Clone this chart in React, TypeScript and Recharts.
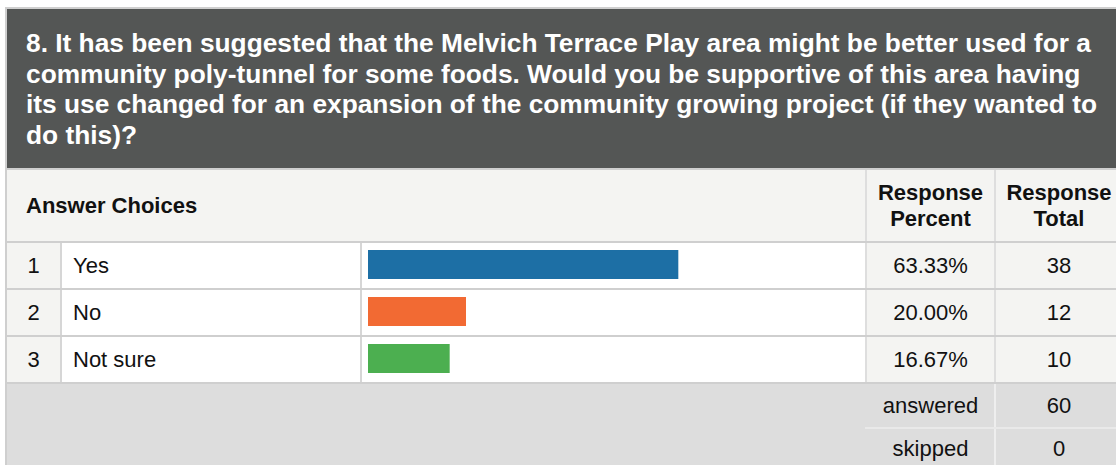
import React from 'react';
import { BarChart, Bar, XAxis, YAxis, Cell } from 'recharts';

const questionLines = [
  '8. It has been suggested that the Melvich Terrace Play area might be better used for a',
  'community poly-tunnel for some foods. Would you be supportive of this area having',
  'its use changed for an expansion of the community growing project (if they wanted to',
  'do this)?',
];
const choiceNumbers = [1, 2, 3];
const choices = ['Yes', 'No', 'Not sure'];
const responsePercents = [63.33, 20.0, 16.67];
const responseTotals = [38, 12, 10];
const answeredCount = 60;
const skippedCount = 0;
const barColors = ['#1d6fa5', '#f26a33', '#4caf50'];

const data = choices.map((c, i) => ({ choice: c, percent: responsePercents[i] }));

const FONT = "'Liberation Sans', Arial, Helvetica, sans-serif";
const LINE = '#cfcfcf';
const VLINE = '#d6d6d6';
const LIGHT = '#f4f4f2';
const FOOT = '#dddddd';
const FS = 22;

const C0 = 7;
const C1 = 60;
const C2 = 360;
const C3 = 865;
const C4 = 994;
const C5 = 1122;
const R1 = 241;
const RH = 47;
const F0 = R1 + RH * 3;
const F1 = 427;

const abs = (left: number, top: number, width: number, height: number, extra: React.CSSProperties = {}): React.CSSProperties => ({
  position: 'absolute',
  left,
  top,
  width,
  height,
  ...extra,
});

const Cell2 = ({ left, top, width, height, children, align = 'center', bold = false, pad = 0, bg }: any) => (
  <div
    style={abs(left, top, width, height, {
      display: 'flex',
      alignItems: 'center',
      justifyContent: align === 'center' ? 'center' : 'flex-start',
      paddingLeft: pad,
      boxSizing: 'border-box',
      fontWeight: bold ? 700 : 400,
      background: bg,
      color: '#111',
      fontSize: FS,
      whiteSpace: 'nowrap',
    })}
  >
    {children}
  </div>
);

export default function App() {
  return (
    <div
      style={{
        position: 'absolute',
        left: 0,
        top: 0,
        width: 1116,
        height: 465,
        overflow: 'hidden',
        background: '#ffffff',
        fontFamily: FONT,
      }}
    >
      {/* outer border */}
      <div style={abs(5, 7, 1111, 2, { background: LINE })} />
      <div style={abs(5, 7, 2, 458, { background: LINE })} />

      {/* dark question header */}
      <div style={abs(C0, 9, 1116 - C0, 159, { background: '#545655' })} />
      <div
        style={abs(26, 28, 1090, 130, {
          color: '#ffffff',
          fontWeight: 700,
          fontSize: 26.3,
          lineHeight: '30.7px',
          whiteSpace: 'nowrap',
        })}
      >
        {questionLines.map((l, i) => (
          <div key={i}>{l}</div>
        ))}
      </div>
      <div style={abs(C0, 168, 1116 - C0, 2, { background: LINE })} />

      {/* header row */}
      <div style={abs(C0, 170, C5 - C0, R1 - 170, { background: LIGHT })} />
      <div style={abs(C3, 170, 2, R1 - 170, { background: '#dedede' })} />
      <div style={abs(C4, 170, 2, R1 - 170, { background: '#dedede' })} />
      <Cell2 left={C0} top={170} width={C3 - C0} height={R1 - 170} align="left" pad={19} bold>
        Answer Choices
      </Cell2>
      <div
        style={abs(C3 + 2, 170, C4 - C3 - 2, R1 - 170, {
          display: 'flex',
          alignItems: 'center',
          justifyContent: 'center',
          textAlign: 'center',
          fontWeight: 700,
          fontSize: FS,
          lineHeight: '26px',
          color: '#111',
        })}
      >
        Response
        <br />
        Percent
      </div>
      <div
        style={abs(C4 + 2, 170, C5 - C4 - 2, R1 - 170, {
          display: 'flex',
          alignItems: 'center',
          justifyContent: 'center',
          textAlign: 'center',
          fontWeight: 700,
          fontSize: FS,
          lineHeight: '26px',
          color: '#111',
        })}
      >
        Response
        <br />
        Total
      </div>

      {/* data rows */}
      {choices.map((c, i) => {
        const top = R1 + RH * i;
        return (
          <React.Fragment key={c}>
            <div style={abs(C0, top, 1116 - C0, 2, { background: LINE })} />
            <Cell2 left={C0} top={top + 2} width={C1 - C0} height={RH - 2} bg={LIGHT}>
              {choiceNumbers[i]}
            </Cell2>
            <div style={abs(C1, top + 2, 2, RH - 2, { background: VLINE })} />
            <Cell2 left={C1 + 2} top={top + 2} width={C2 - C1 - 2} height={RH - 2} align="left" pad={11} bg="#ffffff">
              {c}
            </Cell2>
            <div style={abs(C2, top + 2, 2, RH - 2, { background: VLINE })} />
            <div style={abs(C2 + 2, top + 2, C3 - C2 - 2, RH - 2, { background: '#ffffff' })} />
            <div style={abs(C3, top + 2, 2, RH - 2, { background: '#dedede' })} />
            <Cell2 left={C3 + 2} top={top + 2} width={C4 - C3 - 2} height={RH - 2} bg={LIGHT}>
              {responsePercents[i].toFixed(2) + '%'}
            </Cell2>
            <div style={abs(C4, top + 2, 2, RH - 2, { background: '#dedede' })} />
            <Cell2 left={C4 + 2} top={top + 2} width={C5 - C4 - 2} height={RH - 2} bg={LIGHT}>
              {responseTotals[i]}
            </Cell2>
          </React.Fragment>
        );
      })}

      {/* footer */}
      <div style={abs(C0, F0, 1116 - C0, 2, { background: LINE })} />
      <div style={abs(C0, F0 + 2, C5 - C0, 465 - F0 - 2, { background: FOOT })} />
      <div style={abs(C4, F0 + 2, 2, 465 - F0 - 2, { background: '#eeeeee' })} />
      <div style={abs(C3, F1, C5 - C3, 2, { background: '#e9e9e9' })} />
      <Cell2 left={C3 + 2} top={F0 + 2} width={C4 - C3 - 2} height={F1 - F0 - 2}>
        answered
      </Cell2>
      <Cell2 left={C4 + 2} top={F0 + 2} width={C5 - C4 - 2} height={F1 - F0 - 2}>
        {answeredCount}
      </Cell2>
      <Cell2 left={C3 + 2} top={F1 + 2} width={C4 - C3 - 2} height={39}>
        skipped
      </Cell2>
      <Cell2 left={C4 + 2} top={F1 + 2} width={C5 - C4 - 2} height={39}>
        {skippedCount}
      </Cell2>

      {/* bars */}
      <div style={abs(C2, R1, C3 - C2, RH * 3)}>
        <BarChart
          width={C3 - C2}
          height={RH * 3}
          data={data}
          layout="vertical"
          margin={{ top: 0, right: 7, bottom: 0, left: 8 }}
        >
          <XAxis type="number" domain={[0, 100]} hide />
          <YAxis type="category" dataKey="choice" hide />
          <Bar dataKey="percent" barSize={29} isAnimationActive={false}>
            {data.map((d, i) => (
              <Cell key={d.choice} fill={barColors[i]} />
            ))}
          </Bar>
        </BarChart>
      </div>
    </div>
  );
}
